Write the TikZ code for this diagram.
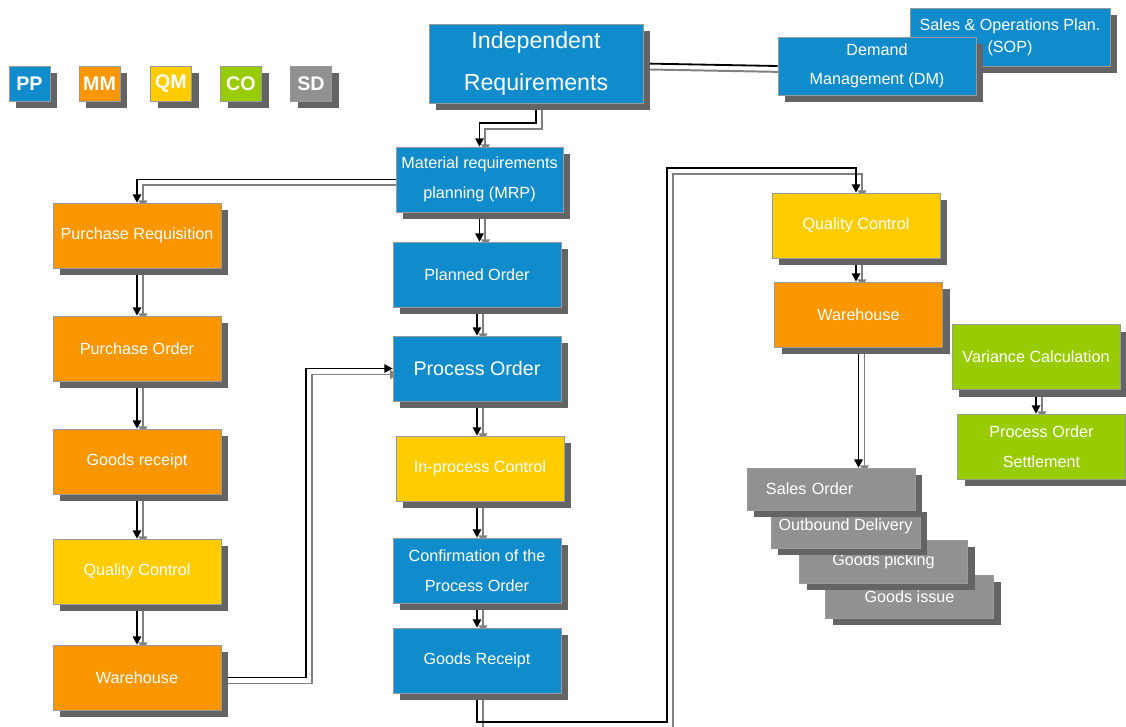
\documentclass[tikz,border=0pt]{standalone}
\usepackage{fontspec}
\setmainfont{Liberation Sans}
\usetikzlibrary{positioning, shadows, backgrounds, arrows.meta, calc}

\definecolor{ppblue}{RGB}{16,140,205}
\definecolor{mmorange}{RGB}{250,150,0}
\definecolor{qmyellow}{RGB}{255,204,0}
\definecolor{cogreen}{RGB}{153,204,0}
\definecolor{sdgray}{RGB}{145,145,145}
\definecolor{shadowgray}{RGB}{100,100,100}

\begin{document}
\begin{tikzpicture}[
    x=0.025cm, y=-0.025cm,
    box/.style={rectangle, draw=black!40, text=white, align=center, minimum width=4.2cm, minimum height=1.625cm, inner sep=2pt, font=\fontsize{11.5}{21}\selectfont, drop shadow={shadow xshift=5pt, shadow yshift=-5pt, fill=shadowgray, opacity=1}},
    pp/.style={box, fill=ppblue},
    mm/.style={box, fill=mmorange},
    qm/.style={box, fill=qmyellow},
    co/.style={box, fill=cogreen},
    sd/.style={box, fill=sdgray, minimum height=1.075cm},
    legend/.style={box, minimum width=1.025cm, minimum height=0.875cm, font=\fontsize{14}{16}\selectfont\bfseries},
    arrow/.style={line width=1.3pt, -{Triangle[length=6pt, width=6pt]}, preaction={draw=black!50, line width=1.4pt, transform canvas={xshift=4.25pt, yshift=-4.25pt}}},
    link/.style={arrow, -}
]
\useasboundingbox (0,0) rectangle (1126,726);

% Legend
\foreach \name/\col/\x in {PP/ppblue/29.5, MM/mmorange/99.5, QM/qmyellow/171, CO/cogreen/241, SD/sdgray/311}
    \node[legend, fill=\col] (leg\name) at (\x,83.5) {\name};

% Nodes
\node[pp, minimum width=5.35cm, minimum height=1.975cm, font=\fontsize{16.5}{30}\selectfont] (indep) at (536,63.5) {Independent\\Requirements};
\node[pp, minimum width=5cm, minimum height=1.45cm, font=\fontsize{11.5}{15.5}\selectfont] (sop) at (1010,37) {Sales \& Operations Plan.\\(SOP)};
\node[pp, minimum width=4.95cm, minimum height=1.45cm] (demand) at (877,66) {Demand\\Management (DM)};

\node[pp, minimum width=4.175cm] (mrp) at (479.5,179.5) {Material requirements\\planning (MRP)};
\node[pp] (plan) at (477,274.5) {Planned Order};
\node[pp, font=\fontsize{14}{16}\selectfont] (proc) at (477,368.5) {Process Order};
\node[qm] (ipc) at (480,468.5) {In-process Control};
\node[pp] (conf) at (477,570.5) {Confirmation of the\\Process Order};
\node[pp] (grcpt) at (477,660.5) {Goods Receipt};

\node[mm] (preq) at (137,235.5) {Purchase Requisition};
\node[mm] (pord) at (137,348.5) {Purchase Order};
\node[mm] (grec) at (137,461.5) {Goods receipt};
\node[qm] (qcin) at (137,571.5) {Quality Control};
\node[mm] (whin) at (137,677.5) {Warehouse};

\node[qm] (qcout) at (856,225.5) {Quality Control};
\node[mm] (whout) at (858.5,314.5) {Warehouse};
\node[co] (var) at (1036,357) {Variance Calculation};
\node[co] (settle) at (1041.5,446.5) {Process Order\\Settlement};

% Sales stack, back to front
\node[sd] (issue) at (909.5,596.5) {Goods issue};
\node[sd] (pick) at (883.5,561.5) {Goods picking};
\node[sd, minimum width=3.725cm] (outb) at (845.5,526.5) {Outbound Delivery};
\node[sd, minimum height=1.05cm, inner xsep=0.475cm, text width=3.25cm, align=left] (sales) at (831,489) {Sales Order};

% Arrows
\begin{scope}[on background layer]
    \draw[link] (indep.east) -- (demand.west);
    \draw[arrow] (indep.south) -- ++(0,20) -| (mrp.north);
    \draw[arrow] (mrp.west) -| (preq.north);
    \draw[arrow] (mrp.south) -- (mrp.south |- plan.north);
    \draw[arrow] (plan) -- (proc);
    \draw[arrow] (proc.south) -- (proc.south |- ipc.north);
    \draw[arrow] (conf.north |- ipc.south) -- (conf.north);
    \draw[arrow] (conf) -- (grcpt);
    \draw[arrow] (preq) -- (pord);
    \draw[arrow] (pord) -- (grec);
    \draw[arrow] (grec) -- (qcin);
    \draw[arrow] (qcin) -- (whin);
    \draw[arrow] (whin.east) -- ++(85,0) |- (proc.west);
    \coordinate (detour) at (667,168);
    \draw[arrow] (grcpt.south) -- ++(0,29) -| (detour) -| (qcout.north);
    \draw[arrow] (qcout) -- (qcout |- whout.north);
    \draw[arrow] (whout.south) -- (whout.south |- sales.north);
    \draw[arrow] (var.south) -- (var.south |- settle.north);
\end{scope}

\end{tikzpicture}
\end{document}
